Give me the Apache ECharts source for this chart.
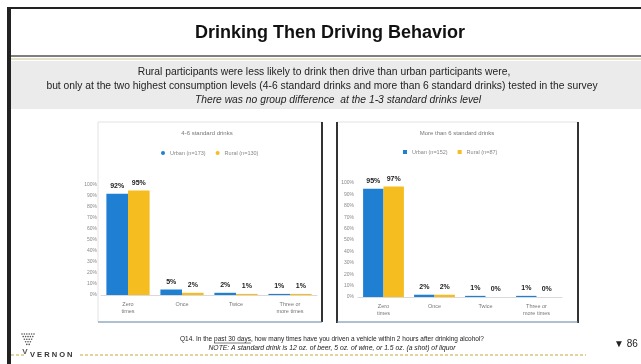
<!DOCTYPE html>
<html>
<head>
<meta charset="utf-8">
<script src="https://cdn.jsdelivr.net/npm/echarts@6/dist/echarts.min.js"></script>
<style>
html,body{margin:0;padding:0;background:#fff;}
#c{width:641px;height:364px;}
</style>
</head>
<body>
<div id="c"></div>
<script>
const categories = ['Zero\ntimes', 'Once', 'Twice', 'Three or\nmore times'];
const yTicks = [0, 10, 20, 30, 40, 50, 60, 70, 80, 90, 100];
const leftUrban = [92, 5, 2, 1];
const leftRural = [95, 2, 1, 1];
const rightUrban = [95, 2, 1, 1];
const rightRural = [97, 2, 0, 0];
const leftNames = ['Urban (n=173)', 'Rural (n=130)'];
const rightNames = ['Urban (n=152)', 'Rural (n=87)'];
const panelTitles = ['4-6 standard drinks', 'More than 6 standard drinks'];

const BLUE = '#1f7fd2', GOLD = '#f5bd1f';
const FONT = '"Liberation Sans", Arial, sans-serif';

const chart = echarts.init(document.getElementById('c'), null, {renderer: 'canvas'});

function yAxis(idx) {
  return {
    type: 'value', gridIndex: idx, min: yTicks[0], max: yTicks[yTicks.length - 1], interval: yTicks[1] - yTicks[0],
    axisLine: {show: false}, axisTick: {show: false}, splitLine: {show: false},
    axisLabel: {fontSize: 5, color: '#888', margin: 4, formatter: v => v + '%', fontFamily: FONT}
  };
}
function xAxis(idx) {
  return {
    type: 'category', gridIndex: idx, data: categories,
    axisLine: {lineStyle: {color: '#d9d9d9', width: 1}}, axisTick: {show: false},
    axisLabel: {fontSize: 5.5, color: '#777', margin: 6, lineHeight: 7, fontFamily: FONT}
  };
}
function bar(name, data, idx, color) {
  return {
    type: 'bar', name: name, data: data, xAxisIndex: idx, yAxisIndex: idx,
    barGap: '0%', barCategoryGap: '20%',
    itemStyle: {color: color},
    label: {show: true, position: 'top', formatter: '{c}%', fontSize: 7, fontWeight: 'bold', color: '#222', distance: 4, fontFamily: FONT}
  };
}

const ctx = document.createElement('canvas').getContext('2d');
function tw(t, f) { ctx.font = f; return ctx.measureText(t).width; }

const g = [];
// outer frame
g.push({type: 'rect', shape: {x: 8, y: 8, width: 640, height: 400}, style: {fill: 'none', stroke: '#222', lineWidth: 2}, z: 0});
g.push({type: 'rect', shape: {x: 8, y: 8, width: 3, height: 360}, style: {fill: '#222'}});
// title
g.push({type: 'text', x: 330, y: 33, style: {text: 'Drinking Then Driving Behavior', font: 'bold 18px ' + FONT, fill: '#111', align: 'center', verticalAlign: 'middle'}});
// separator
g.push({type: 'line', shape: {x1: 11, y1: 56, x2: 641, y2: 56}, style: {stroke: '#555', lineWidth: 1.5}});
g.push({type: 'line', shape: {x1: 11, y1: 59, x2: 641, y2: 59}, style: {stroke: '#dcd8b8', lineWidth: 1.5}});
// grey band
g.push({type: 'rect', shape: {x: 11, y: 61, width: 630, height: 48}, style: {fill: '#ebebeb'}});
const SUBF = '10.3px ' + FONT;
g.push({type: 'text', x: 324, y: 72, style: {text: 'Rural participants were less likely to drink then drive than urban participants were,', font: SUBF, fill: '#222', align: 'center', verticalAlign: 'middle'}});
g.push({type: 'text', x: 322, y: 86, style: {text: 'but only at the two highest consumption levels (4-6 standard drinks and more than 6 standard drinks) tested in the survey', font: SUBF, fill: '#222', align: 'center', verticalAlign: 'middle'}});
g.push({type: 'text', x: 338, y: 100, style: {text: 'There was no group difference  at the 1-3 standard drinks level', font: 'italic ' + SUBF, fill: '#222', align: 'center', verticalAlign: 'middle'}});
// panels
g.push({type: 'rect', shape: {x: 98, y: 122, width: 224, height: 200}, style: {fill: 'none', stroke: '#e2e2e2', lineWidth: 1}});
g.push({type: 'line', shape: {x1: 322, y1: 122, x2: 322, y2: 322}, style: {stroke: '#333', lineWidth: 2}});
g.push({type: 'line', shape: {x1: 98, y1: 322, x2: 322, y2: 322}, style: {stroke: '#6d8fae', lineWidth: 1}});
g.push({type: 'rect', shape: {x: 337, y: 122, width: 241, height: 200}, style: {fill: 'none', stroke: '#e2e2e2', lineWidth: 1}});
g.push({type: 'line', shape: {x1: 337, y1: 122, x2: 337, y2: 323}, style: {stroke: '#333', lineWidth: 2}});
g.push({type: 'line', shape: {x1: 578, y1: 122, x2: 578, y2: 323}, style: {stroke: '#333', lineWidth: 2}});
g.push({type: 'line', shape: {x1: 337, y1: 322, x2: 578, y2: 322}, style: {stroke: '#6d8fae', lineWidth: 1}});
// panel titles
g.push({type: 'text', x: 207, y: 133, style: {text: panelTitles[0], font: '6px ' + FONT, fill: '#777', align: 'center', verticalAlign: 'middle'}});
g.push({type: 'text', x: 457, y: 133, style: {text: panelTitles[1], font: '6px ' + FONT, fill: '#777', align: 'center', verticalAlign: 'middle'}});
// footer
const QF = '6.5px ' + FONT;
const qText = 'Q14. In the past 30 days, how many times have you driven a vehicle within 2 hours after drinking alcohol?';
const qCx = 332;
g.push({type: 'text', x: qCx, y: 339, style: {text: qText, font: QF, fill: '#222', align: 'center', verticalAlign: 'middle'}});
const qStart = qCx - tw(qText, QF) / 2;
const ux1 = qStart + tw('Q14. In the ', QF), ux2 = ux1 + tw('past 30 days', QF);
g.push({type: 'line', shape: {x1: ux1, y1: 343, x2: ux2, y2: 343}, style: {stroke: '#222', lineWidth: 0.6}});
g.push({type: 'text', x: 332, y: 348, style: {text: 'NOTE: A standard drink is 12 oz. of beer, 5 oz. of wine, or 1.5 oz. (a shot) of liquor', font: 'italic 6.8px ' + FONT, fill: '#222', align: 'center', verticalAlign: 'middle'}});
g.push({type: 'text', x: 614, y: 344, style: {text: '▼ 86', font: '10px ' + FONT, fill: '#222', align: 'left', verticalAlign: 'middle'}});
// gold dashed rule
g.push({type: 'line', shape: {x1: 11, y1: 355, x2: 24, y2: 355}, style: {stroke: '#c9a63a', lineWidth: 1, lineDash: [3, 2]}});
g.push({type: 'line', shape: {x1: 80, y1: 355, x2: 586, y2: 355}, style: {stroke: '#c9a63a', lineWidth: 1, lineDash: [3, 2]}});
// logo
g.push({type: 'text', x: 30, y: 355, style: {text: 'V E R N O N', font: 'bold 7.5px ' + FONT, fill: '#333', align: 'left', verticalAlign: 'middle'}});
const rows = [[0,1,2,3,4,5],[0.5,1.5,2.5,3.5,4.5],[1,2,3,4],[1.5,2.5,3.5],[2,3]];
rows.forEach((r, ri) => r.forEach(c => g.push({type: 'circle', shape: {cx: 22 + c * 2.4, cy: 334 + ri * 2.6, r: 0.8}, style: {fill: '#555'}})));
g.push({type: 'text', x: 25, y: 352, style: {text: 'V', font: 'bold 8px ' + FONT, fill: '#555', align: 'center', verticalAlign: 'middle'}});

chart.setOption({
  animation: false,
  backgroundColor: '#fff',
  textStyle: {fontFamily: FONT},
  grid: [
    {left: 101, right: 641 - 317, top: 185, bottom: 364 - 295},
    {left: 358, right: 641 - 562, top: 183, bottom: 364 - 297}
  ],
  legend: [
    {data: leftNames, left: 156, top: 145, orient: 'horizontal', itemWidth: 4, itemHeight: 4, itemGap: 10, icon: 'circle', textStyle: {fontSize: 5.5, color: '#888'}},
    {data: rightNames, left: 398, top: 144, orient: 'horizontal', itemWidth: 4, itemHeight: 4, itemGap: 10, icon: 'rect', textStyle: {fontSize: 5.5, color: '#888'}}
  ],
  xAxis: [xAxis(0), xAxis(1)],
  yAxis: [yAxis(0), yAxis(1)],
  series: [
    bar(leftNames[0], leftUrban, 0, BLUE),
    bar(leftNames[1], leftRural, 0, GOLD),
    bar(rightNames[0], rightUrban, 1, BLUE),
    bar(rightNames[1], rightRural, 1, GOLD)
  ],
  graphic: {elements: g}
});
</script>
</body>
</html>
